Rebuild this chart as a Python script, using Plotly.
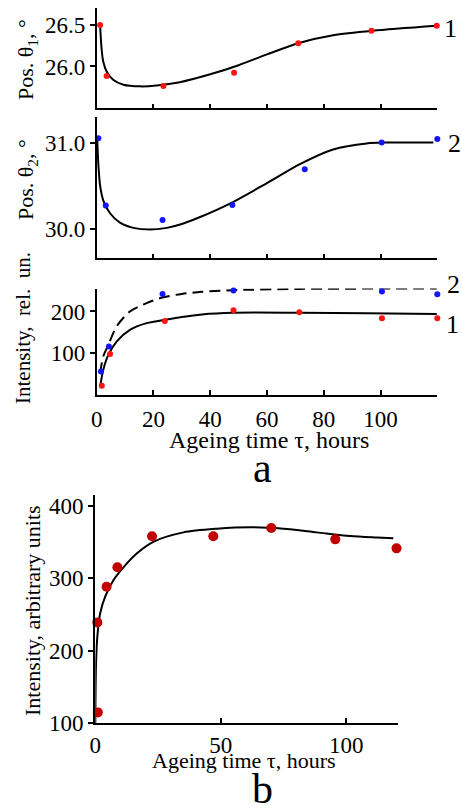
import plotly.graph_objects as go

W, H = 462, 808
FONT = "Liberation Serif"

# ---- (a) peak position 1 ----
t_pos1 = [1.2, 3.5, 23.5, 48.4, 71.0, 96.8, 119.8]
pos1 = [26.50, 25.885, 25.765, 25.925, 26.28, 26.43, 26.49]
t_pos1_fit = [1.2, 1.7, 2.3, 3.5, 5.8, 9.4, 15.3, 21.1, 29.3, 40.0, 50.0, 60.0, 71.6, 83.3, 97.2, 119.8]
pos1_fit = [26.50, 26.22, 26.06, 25.94, 25.84, 25.78, 25.76, 25.77, 25.81, 25.905, 26.015, 26.145, 26.285, 26.375, 26.43, 26.49]

# ---- (a) peak position 2 ----
t_pos2 = [0.6, 3.2, 23.2, 47.8, 73.3, 100.4, 120.0]
pos2 = [31.05, 30.27, 30.10, 30.275, 30.69, 31.00, 31.04]
t_pos2_fit = [0.2, 0.6, 1.2, 2.3, 4.7, 8.2, 12.9, 18.8, 24.7, 30.0, 36.0, 48.0, 60.0, 71.6, 83.3, 95.1, 102.1, 118.6]
pos2_fit = [31.02, 30.74, 30.50, 30.33, 30.18, 30.07, 30.01, 29.99, 30.01, 30.055, 30.13, 30.31, 30.53, 30.75, 30.92, 30.99, 31.00, 31.00]

# ---- (a) intensities of peaks 1 and 2 ----
t_int1 = [1.8, 4.7, 24.0, 48.2, 71.4, 100.5, 120.0]
int1 = [22, 98, 177, 203, 198, 184, 184]
t_int2 = [1.5, 4.3, 23.2, 48.2, 71.6, 100.5, 120.0]
int2 = [56, 116, 242, 250, 267, 248, 241]
t_int1_fit = [1.2, 2.3, 4.1, 7.0, 11.7, 17.6, 24.7, 30.0, 37.0, 48.1, 71.6, 95.1, 119.8]
int1_fit = [20, 60, 96, 128, 156, 172, 181, 187, 193, 197, 197, 196, 194]
t_int2_fit = [1.2, 2.3, 4.1, 7.0, 11.7, 17.6, 23.5, 30.0, 37.0, 48.1, 71.6, 119.8]
int2_fit = [52, 92, 120, 164, 200, 220, 234, 242, 247, 251, 254, 255]

# ---- (b) total intensity ----
t_b = [0.8, 1.0, 4.5, 8.8, 22.6, 47.0, 70.1, 95.6, 120.0]
int_b = [239, 115, 288, 315, 357.6, 357.6, 369, 353.4, 341]
t_b_fit = [0.0, 0.3, 0.8, 1.9, 3.9, 7.2, 12.5, 16.5, 23.1, 35.1, 48.4, 61.6, 74.9, 88.2, 101.5, 112.1, 118.7]
int_b_fit = [100, 183, 219, 251, 274, 297, 320, 334, 350, 363, 368, 370, 368, 363, 358, 356, 355]

x_ticks_a = [0, 20, 40, 60, 80, 100, 120]
x_ticktext_a = ["0", "20", "40", "60", "80", "100", ""]
x_ticks_b = [0, 50, 100]


def px_x(p):
    return p / W


def px_y(p):
    return 1 - p / H


fig = go.Figure()


def add_points(x, y, color, size, xa, ya):
    fig.add_trace(go.Scatter(x=x, y=y, mode="markers", xaxis=xa, yaxis=ya,
                             marker=dict(color=color, size=size),
                             cliponaxis=False, showlegend=False))


def add_curve(x, y, xa, ya, dash="solid"):
    fig.add_trace(go.Scatter(x=x, y=y, mode="lines", xaxis=xa, yaxis=ya,
                             line=dict(color="black", width=2, dash=dash,
                                       shape="spline", smoothing=0.8),
                             cliponaxis=False, showlegend=False))


add_curve(t_pos1_fit, pos1_fit, "x", "y")
add_points(t_pos1, pos1, "#ff1414", 6, "x", "y")

add_curve(t_pos2_fit, pos2_fit, "x2", "y2")
add_points(t_pos2, pos2, "#1414ff", 6, "x2", "y2")

add_curve(t_int2_fit, int2_fit, "x3", "y3", dash="11px,6px")
add_curve(t_int1_fit, int1_fit, "x3", "y3")
add_points(t_int2, int2, "#1414ff", 6, "x3", "y3")
add_points(t_int1, int1, "#ff1414", 6, "x3", "y3")

add_curve(t_b_fit, int_b_fit, "x4", "y4")
add_points(t_b, int_b, "#c00000", 10, "x4", "y4")

tickfont = dict(family=FONT, size=23, color="black")
axis_common = dict(showline=True, linecolor="black", linewidth=1.6,
                   showgrid=False, zeroline=False, ticks="outside",
                   ticklen=5, tickwidth=1.5, tickcolor="black",
                   tickfont=tickfont, automargin=False)

xdom_a = [px_x(96.7), px_x(437.3)]
xdom_b = [px_x(95.3), px_x(398.3)]

layout = dict(
    width=W, height=H, margin=dict(l=0, r=0, t=0, b=0, autoexpand=False),
    paper_bgcolor="white", plot_bgcolor="white", showlegend=False,
    xaxis=dict(axis_common, domain=xdom_a, range=[0, 120], anchor="y",
               tickvals=x_ticks_a, showticklabels=False, ticks="inside"),
    yaxis=dict(axis_common, domain=[px_y(108.3), px_y(8.3)], range=[25.496, 26.70],
               anchor="x", tickvals=[26.0, 26.5], tickformat=".1f"),
    xaxis2=dict(axis_common, domain=xdom_a, range=[0, 120], anchor="y2",
                tickvals=x_ticks_a, showticklabels=False, ticks="inside"),
    yaxis2=dict(axis_common, domain=[px_y(258.3), px_y(116.7)], range=[29.657, 31.30],
                anchor="x2", tickvals=[30.0, 31.0], tickformat=".1f"),
    xaxis3=dict(axis_common, domain=xdom_a, range=[0, 120], anchor="y3",
                tickvals=x_ticks_a, ticktext=x_ticktext_a, ticks="inside",
                ticklabelstandoff=3),
    yaxis3=dict(axis_common, domain=[px_y(395), px_y(288.5)], range=[0, 255],
                anchor="x3", tickvals=[100, 200]),
    xaxis4=dict(axis_common, domain=xdom_b, range=[0, 120.7], anchor="y4",
                tickvals=x_ticks_b, ticks="inside", linewidth=2.4),
    yaxis4=dict(axis_common, domain=[px_y(723.3), px_y(495)], range=[100, 414.5],
                anchor="x4", tickvals=[100, 200, 300, 400], linewidth=2.4),
)
fig.update_layout(**layout)


def label(text, x, y, size, angle=0):
    fig.add_annotation(text=text, x=px_x(x), y=px_y(y), xref="paper", yref="paper",
                       showarrow=False, textangle=angle, xanchor="center", yanchor="middle",
                       font=dict(family=FONT, size=size, color="black"))


# axis titles
label("Pos. θ<sub>1</sub>, °", 27, 60, 22, -90)
label("Pos. θ<sub>2</sub>, °", 27, 180, 22, -90)
label("Intensity,  rel.  un.", 23, 328, 21, -90)
label("Ageing time τ, hours", 269, 440, 24)
label("Intensity, arbitrary units", 32, 611, 22, -90)
label("Ageing time τ, hours", 244, 760, 22)

# curve numbers
label("1", 450, 28, 26)
label("2", 454, 144, 26)
label("2", 453, 284, 26)
label("1", 452, 324, 26)

# panel letters
label("a", 262, 468, 42)
label("b", 262, 789, 42)

fig.write_html("out.html")
